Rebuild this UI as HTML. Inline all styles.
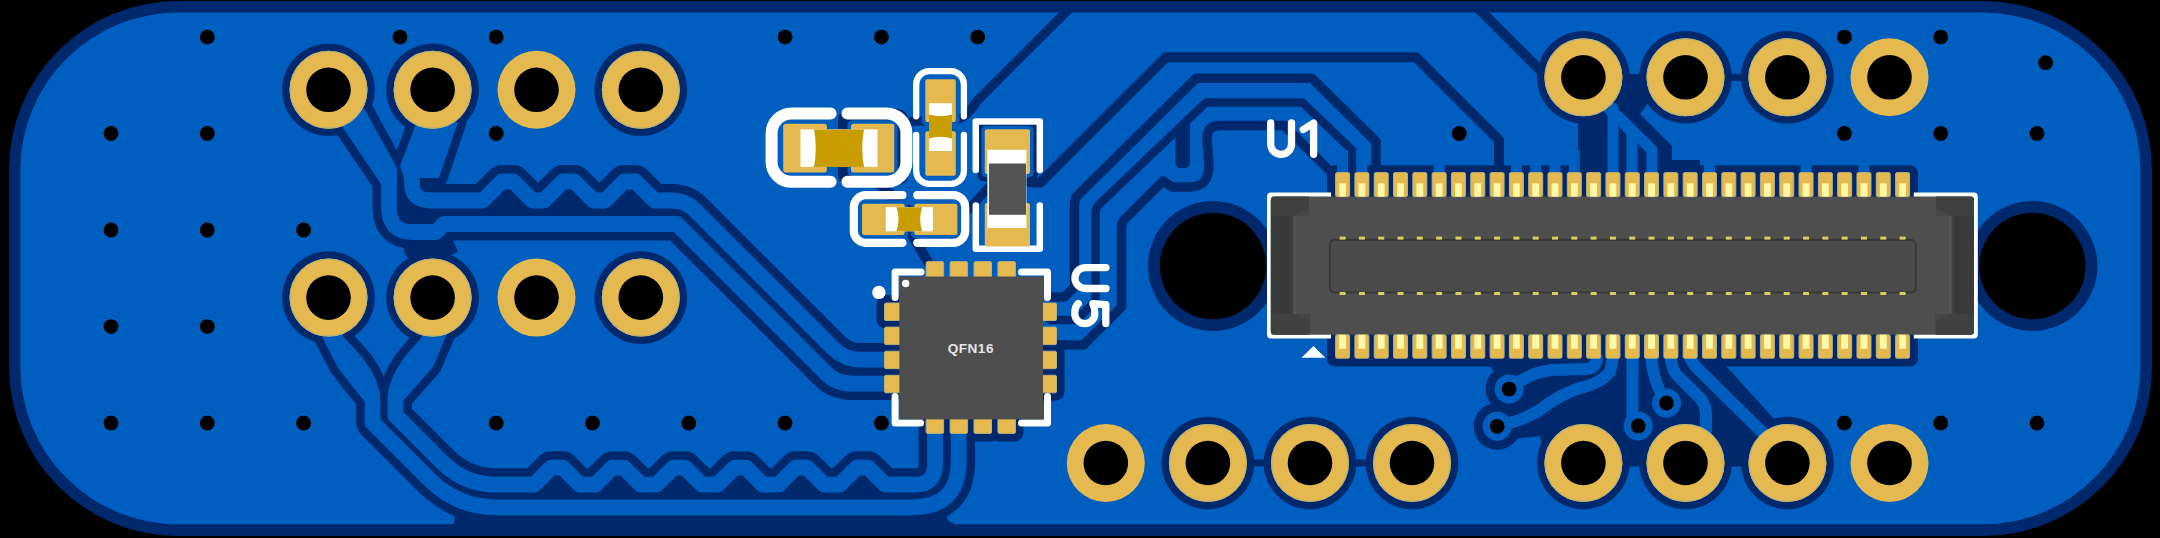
<!DOCTYPE html>
<html><head><meta charset="utf-8"><style>
html,body{margin:0;padding:0;background:#000;width:2160px;height:538px;overflow:hidden;}
svg{display:block;}
</style></head><body><svg width="2160" height="538" viewBox="0 0 2160 538"><rect x="9" y="1" width="2143" height="535" rx="169" ry="169" fill="#00286c"/>
<rect x="20.3" y="12.6" width="2120.2" height="511.6" rx="157.5" ry="157.5" fill="#005ebf"/>
<g fill="none" stroke="#00286c" stroke-linecap="round" stroke-linejoin="round"><circle cx="328.5" cy="89.8" r="46.3" fill="#00286c" stroke="none"/><circle cx="328.5" cy="297.6" r="46.3" fill="#00286c" stroke="none"/><circle cx="432.6" cy="89.8" r="46.3" fill="#00286c" stroke="none"/><circle cx="432.6" cy="297.6" r="46.3" fill="#00286c" stroke="none"/><circle cx="640.8" cy="89.8" r="46.3" fill="#00286c" stroke="none"/><circle cx="640.8" cy="297.6" r="46.3" fill="#00286c" stroke="none"/><circle cx="1583.4" cy="77.3" r="46.3" fill="#00286c" stroke="none"/><circle cx="1583.4" cy="463.0" r="46.3" fill="#00286c" stroke="none"/><circle cx="1685.5" cy="77.3" r="46.3" fill="#00286c" stroke="none"/><circle cx="1685.5" cy="463.0" r="46.3" fill="#00286c" stroke="none"/><circle cx="1787.4" cy="77.3" r="46.3" fill="#00286c" stroke="none"/><circle cx="1787.4" cy="463.0" r="46.3" fill="#00286c" stroke="none"/><circle cx="1207.9" cy="463.0" r="46.3" fill="#00286c" stroke="none"/><circle cx="1310.0" cy="463.0" r="46.3" fill="#00286c" stroke="none"/><circle cx="1412.0" cy="463.0" r="46.3" fill="#00286c" stroke="none"/><circle cx="1213" cy="266" r="65" fill="#00286c" stroke="none"/><circle cx="2032.4" cy="266" r="65" fill="#00286c" stroke="none"/><path d="M474 189 H664 V216 H474 Z" fill="#00286c" stroke="none"/><path d="M404 236 L452 238 L458 252 L440 260 L412 264 L404 252 Z" fill="#00286c" stroke="none"/><path d="M398 200 L412 212 L430 214 L430 222 L400 222 Z" fill="#00286c" stroke="none"/><path d="M432.6 89.8 L412 168 L412 184 Q412 200.5 432 200.5 L482.9 200.5 L501.9 181.5 L513.4 181.5 L532.4 200.5 L544.0 200.5 L563.0 181.5 L574.5 181.5 L593.5 200.5 L605.1 200.5 L624.1 181.5 L635.6 181.5 L654.6 200.5 L672 200.5 Q685.4 200.5 695 210 L834 349 Q845 359.6 860 359.6 L900 359.6" stroke-width="33.0"/><path d="M328.5 89.8 L389 172 L389 207 Q389 232 412 232 L436 232 L444 224 L676.9 224 L826 373 Q836 383.6 852 383.6 L900 383.6" stroke-width="33.0"/><path d="M345 118 L364 108 L397 168 L397 184 L381 184 L343 128 Z" fill="#00286c" stroke-width="17"/><path d="M418 118 L458 122 L439 178 L404 178 L400 166 Z" fill="#00286c" stroke-width="17"/><path d="M520 474 H870 V499 H520 Z" fill="#00286c" stroke="none"/><path d="M432.6 297.6 L429 342 Q395.4 374 395.4 400 L395.4 415.4 L442.1 462.1 Q464.7 484.7 496.7 484.7 L534.2 484.7 L551.2 467.7 L562.8 467.7 L579.8 484.7 L595.4 484.7 L612.4 467.7 L623.9 467.7 L640.9 484.7 L656.5 484.7 L673.5 467.7 L685.0 467.7 L702.0 484.7 L717.5 484.7 L734.5 467.7 L746.0 467.7 L763.0 484.7 L778.6 484.7 L795.6 467.7 L807.1 467.7 L824.1 484.7 L839.8 484.7 L856.8 467.7 L868.2 467.7 L885.2 484.7 L915 484.7 Q935 484.7 935 464 L935 430" stroke-width="33.0"/><path d="M328.5 297.6 L336 342 Q372.6 374 372.6 402 L372.6 422.6 L429.7 479.7 Q457.3 507.3 496.3 507.3 L912 507.3 Q958.6 507.3 958.6 462 L958.6 430" stroke-width="33.0"/><path d="M322 337 L341 334 L364 360 L380 392 L380 402 L365 402 L338 368 Z" fill="#00286c" stroke-width="17"/><path d="M421 338 L447 334 L433 367 L404 400 L388 400 L388 392 L404 360 Z" fill="#00286c" stroke-width="17"/><path d="M446 512.5 L458 505 L470 500 H947 V516 Q947 523 954 523 V526 H448 A6.5 6.5 0 0 0 448 512.5 Z" fill="#00286c" stroke="none"/><rect x="1327" y="165.3" width="591" height="39" rx="8" fill="#00286c" stroke="none"/><rect x="1327" y="326" width="591" height="40.5" rx="8" fill="#00286c" stroke="none"/><path d="M1478 8 L1545 75" stroke-width="10"/><path d="M1578 100 L1578 172 L1700 172 L1700 160 L1672 160 L1672 146 L1628 102 Z" fill="#00286c" stroke="none"/><path d="M1622 74 L1648 74 L1650 100 L1640 114 L1622 112 Z" fill="#00286c" stroke="none"/><rect x="1250.95" y="459.5" width="16" height="7" fill="#00286c" stroke="none"/><rect x="1353.0" y="459.5" width="16" height="7" fill="#00286c" stroke="none"/><rect x="1728.45" y="73.8" width="16" height="7" fill="#00286c" stroke="none"/><rect x="1626.45" y="459.5" width="16" height="7" fill="#00286c" stroke="none"/><rect x="1728.45" y="459.5" width="16" height="7" fill="#00286c" stroke="none"/><circle cx="1509.1" cy="389.1" r="23.5" fill="#00286c" stroke="none"/><circle cx="1497.2" cy="426.3" r="23.5" fill="#00286c" stroke="none"/><path d="M1460 362 L1490 366 L1500 380 L1510 405 L1497 410 L1505 440 L1540 436 L1545 466 L1770 466 L1775 420 L1726 366 Z" fill="#00286c" stroke="none"/><path d="M1068 10 L976 102 Q966 120 950 121 L912 121" stroke-width="9"/><rect x="876.5" y="295" width="36" height="33.5" rx="9" fill="#00286c" stroke="none"/><rect x="1029" y="343.19" width="35.5" height="57.57" rx="9" fill="#00286c" stroke="none"/><rect x="966.01" y="406" width="33.5" height="35.5" rx="9" fill="#00286c" stroke="none"/><rect x="989.9399999999999" y="406" width="33.5" height="35.5" rx="9" fill="#00286c" stroke="none"/><rect x="838" y="109" width="70" height="76" rx="10" fill="#00286c" stroke="none"/><rect x="977" y="121.5" width="61" height="60" rx="8" fill="#00286c" stroke="none"/><path d="M845 178 L878 183 L908 210 L912 235 L928 262" stroke-width="10"/><path d="M968 210 L990 186" stroke-width="9"/><path d="M1030 182 L1040 183 L1166 57.2 L1416 57.2 L1499 140 L1499 170" stroke-width="10"/><path d="M1376 170 L1376 141.5 L1312 78.3 L1196 78.3 L1077.5 195.5 Q1074.5 198.5 1074.5 205 L1074.5 287 L1064.5 297 L1050 297" stroke-width="9.5"/><path d="M1352 170 L1352 150 L1302.5 102.5 L1206 102.5 L1098.5 205 Q1095.5 208 1095.5 214 L1095.5 301 L1076.5 320 L1050 320" stroke-width="8.5"/><path d="M1331 172 L1284 125.4 L1220 125.4 Q1207 125.4 1207 138 L1209 165 Q1209 187 1190 187 L1172 187 L1163 181 L1124.5 219.5 Q1121.5 222.5 1121.5 228 L1121.5 307 L1083.5 345 L1050 345" stroke-width="9.5"/><path d="M1175.5 126 L1190 112 L1190 162 Q1190 168 1184 168 L1181 168 Q1175.5 168 1175.5 162 Z" fill="#00286c" stroke="none"/></g>
<g fill="none" stroke="#005ebf" stroke-linecap="round" stroke-linejoin="round"><path d="M432.6 89.8 L412 168 L412 184 Q412 200.5 432 200.5 L482.9 200.5 L501.9 181.5 L513.4 181.5 L532.4 200.5 L544.0 200.5 L563.0 181.5 L574.5 181.5 L593.5 200.5 L605.1 200.5 L624.1 181.5 L635.6 181.5 L654.6 200.5 L672 200.5 Q685.4 200.5 695 210 L834 349 Q845 359.6 860 359.6 L900 359.6" stroke-width="15.8"/><path d="M328.5 89.8 L389 172 L389 207 Q389 232 412 232 L436 232 L444 224 L676.9 224 L826 373 Q836 383.6 852 383.6 L900 383.6" stroke-width="15.8"/><path d="M345 118 L364 108 L397 168 L397 184 L381 184 L343 128 Z" fill="#005ebf" stroke="none"/><path d="M418 118 L458 122 L439 178 L404 178 L400 166 Z" fill="#005ebf" stroke="none"/><path d="M432.6 297.6 L429 342 Q395.4 374 395.4 400 L395.4 415.4 L442.1 462.1 Q464.7 484.7 496.7 484.7 L534.2 484.7 L551.2 467.7 L562.8 467.7 L579.8 484.7 L595.4 484.7 L612.4 467.7 L623.9 467.7 L640.9 484.7 L656.5 484.7 L673.5 467.7 L685.0 467.7 L702.0 484.7 L717.5 484.7 L734.5 467.7 L746.0 467.7 L763.0 484.7 L778.6 484.7 L795.6 467.7 L807.1 467.7 L824.1 484.7 L839.8 484.7 L856.8 467.7 L868.2 467.7 L885.2 484.7 L915 484.7 Q935 484.7 935 464 L935 430" stroke-width="15.8"/><path d="M328.5 297.6 L336 342 Q372.6 374 372.6 402 L372.6 422.6 L429.7 479.7 Q457.3 507.3 496.3 507.3 L912 507.3 Q958.6 507.3 958.6 462 L958.6 430" stroke-width="15.8"/><path d="M322 337 L341 334 L364 360 L380 392 L380 402 L365 402 L338 368 Z" fill="#005ebf" stroke="none"/><path d="M421 338 L447 334 L433 367 L404 400 L388 400 L388 392 L404 360 Z" fill="#005ebf" stroke="none"/><rect x="1337.1" y="150" width="11" height="30" stroke="none" fill="#005ebf"/><rect x="1356.4" y="150" width="11" height="30" stroke="none" fill="#005ebf"/><rect x="1433.6" y="150" width="11" height="30" stroke="none" fill="#005ebf"/><rect x="1510.9" y="150" width="11" height="30" stroke="none" fill="#005ebf"/><rect x="1530.2" y="150" width="11" height="30" stroke="none" fill="#005ebf"/><rect x="1549.5" y="150" width="11" height="30" stroke="none" fill="#005ebf"/><rect x="1568.8" y="150" width="11" height="30" stroke="none" fill="#005ebf"/><rect x="1704.0" y="150" width="11" height="30" stroke="none" fill="#005ebf"/><rect x="1800.5" y="150" width="11" height="30" stroke="none" fill="#005ebf"/><rect x="1858.5" y="150" width="11" height="30" stroke="none" fill="#005ebf"/><path d="M1613 172 V108" stroke-width="11"/><path d="M1632 172 V132 L1608 108" stroke-width="11"/><path d="M1652 172 V150 L1618 116" stroke-width="11"/><path d="M1597 358 Q1596 369 1585 369 L1552 370 Q1530 372 1509 389" stroke-width="12"/><path d="M1612.9 358 L1610 372 Q1600 384 1580 388 Q1558 395 1540 410 Q1520 422 1497 426" stroke-width="12"/><path d="M1632.5 358 V420" stroke-width="12"/><path d="M1651.6 358 Q1652 380 1666.5 403" stroke-width="12"/><path d="M1670.7 358 Q1672 372 1680 378 L1700 398 Q1706 405 1706 415 V432" stroke-width="12"/><path d="M1690 358 L1695 366 L1768 438" stroke-width="12"/><rect x="847.5" y="120.3" width="50.2" height="55.7" rx="5" fill="#005ebf" stroke="none"/><rect x="981.3" y="125.80000000000001" width="52.2" height="51.7" rx="5" fill="#005ebf" stroke="none"/><rect x="921.8" y="75.7" width="37.5" height="49.8" rx="5" fill="#005ebf" stroke="none"/><rect x="921.8" y="127.69999999999999" width="37.5" height="51.6" rx="5" fill="#005ebf" stroke="none"/><rect x="858.5" y="200.3" width="49.6" height="38.2" rx="5" fill="#005ebf" stroke="none"/><rect x="910.8" y="200.3" width="50.1" height="38.2" rx="5" fill="#005ebf" stroke="none"/><rect x="981.3" y="199.5" width="52.2" height="50.5" rx="5" fill="#005ebf" stroke="none"/><rect x="779.7" y="120.3" width="50.7" height="55.7" rx="5" fill="#005ebf" stroke="none"/><circle cx="1509.1" cy="389.1" r="14.5" fill="#005ebf" stroke="none"/><circle cx="1497.2" cy="426.3" r="14.5" fill="#005ebf" stroke="none"/><circle cx="1638.2" cy="425.9" r="14.5" fill="#005ebf" stroke="none"/><circle cx="1666.5" cy="403.0" r="14.5" fill="#005ebf" stroke="none"/></g>
<g fill="#000"><circle cx="207.3" cy="37.1" r="7.4"/><circle cx="399.9" cy="37.1" r="7.4"/><circle cx="496.2" cy="37.1" r="7.4"/><circle cx="785.1" cy="37.1" r="7.4"/><circle cx="881.4" cy="37.1" r="7.4"/><circle cx="977.7" cy="37.1" r="7.4"/><circle cx="1844.4" cy="37.1" r="7.4"/><circle cx="1940.7" cy="37.1" r="7.4"/><circle cx="111.0" cy="133.5" r="7.4"/><circle cx="207.3" cy="133.5" r="7.4"/><circle cx="496.2" cy="133.5" r="7.4"/><circle cx="1459.2" cy="133.5" r="7.4"/><circle cx="1844.4" cy="133.5" r="7.4"/><circle cx="1940.7" cy="133.5" r="7.4"/><circle cx="2037.0" cy="133.5" r="7.4"/><circle cx="111.0" cy="230.0" r="7.4"/><circle cx="207.3" cy="230.0" r="7.4"/><circle cx="303.6" cy="230.0" r="7.4"/><circle cx="111.0" cy="326.6" r="7.4"/><circle cx="207.3" cy="326.6" r="7.4"/><circle cx="111.0" cy="423.0" r="7.4"/><circle cx="207.3" cy="423.0" r="7.4"/><circle cx="303.6" cy="423.0" r="7.4"/><circle cx="496.2" cy="423.0" r="7.4"/><circle cx="592.5" cy="423.0" r="7.4"/><circle cx="688.8" cy="423.0" r="7.4"/><circle cx="785.1" cy="423.0" r="7.4"/><circle cx="881.4" cy="423.0" r="7.4"/><circle cx="1844.4" cy="423.0" r="7.4"/><circle cx="1940.7" cy="423.0" r="7.4"/><circle cx="2037.0" cy="423.0" r="7.4"/><circle cx="2045.6" cy="62.7" r="7.4"/><circle cx="1509.1" cy="389.1" r="7.4"/><circle cx="1497.2" cy="426.3" r="7.4"/><circle cx="1638.2" cy="425.9" r="7.4"/><circle cx="1666.5" cy="403.0" r="7.4"/></g>
<circle cx="328.5" cy="89.8" r="39" fill="#e4b950"/><circle cx="328.5" cy="89.8" r="38.4" fill="none" stroke="#b9b07a" stroke-width="1.2"/><circle cx="328.5" cy="89.8" r="22.3" fill="#000"/><circle cx="328.5" cy="297.6" r="39" fill="#e4b950"/><circle cx="328.5" cy="297.6" r="38.4" fill="none" stroke="#b9b07a" stroke-width="1.2"/><circle cx="328.5" cy="297.6" r="22.3" fill="#000"/><circle cx="432.6" cy="89.8" r="39" fill="#e4b950"/><circle cx="432.6" cy="89.8" r="38.4" fill="none" stroke="#b9b07a" stroke-width="1.2"/><circle cx="432.6" cy="89.8" r="22.3" fill="#000"/><circle cx="432.6" cy="297.6" r="39" fill="#e4b950"/><circle cx="432.6" cy="297.6" r="38.4" fill="none" stroke="#b9b07a" stroke-width="1.2"/><circle cx="432.6" cy="297.6" r="22.3" fill="#000"/><circle cx="536.5" cy="89.8" r="39" fill="#e4b950"/><circle cx="536.5" cy="89.8" r="22.3" fill="#000"/><circle cx="536.5" cy="297.6" r="39" fill="#e4b950"/><circle cx="536.5" cy="297.6" r="22.3" fill="#000"/><circle cx="640.8" cy="89.8" r="39" fill="#e4b950"/><circle cx="640.8" cy="89.8" r="38.4" fill="none" stroke="#b9b07a" stroke-width="1.2"/><circle cx="640.8" cy="89.8" r="22.3" fill="#000"/><circle cx="640.8" cy="297.6" r="39" fill="#e4b950"/><circle cx="640.8" cy="297.6" r="38.4" fill="none" stroke="#b9b07a" stroke-width="1.2"/><circle cx="640.8" cy="297.6" r="22.3" fill="#000"/><circle cx="1583.4" cy="77.3" r="39" fill="#e4b950"/><circle cx="1583.4" cy="77.3" r="38.4" fill="none" stroke="#b9b07a" stroke-width="1.2"/><circle cx="1583.4" cy="77.3" r="22.3" fill="#000"/><circle cx="1583.4" cy="463.0" r="39" fill="#e4b950"/><circle cx="1583.4" cy="463.0" r="38.4" fill="none" stroke="#b9b07a" stroke-width="1.2"/><circle cx="1583.4" cy="463.0" r="22.3" fill="#000"/><circle cx="1685.5" cy="77.3" r="39" fill="#e4b950"/><circle cx="1685.5" cy="77.3" r="38.4" fill="none" stroke="#b9b07a" stroke-width="1.2"/><circle cx="1685.5" cy="77.3" r="22.3" fill="#000"/><circle cx="1685.5" cy="463.0" r="39" fill="#e4b950"/><circle cx="1685.5" cy="463.0" r="38.4" fill="none" stroke="#b9b07a" stroke-width="1.2"/><circle cx="1685.5" cy="463.0" r="22.3" fill="#000"/><circle cx="1787.4" cy="77.3" r="39" fill="#e4b950"/><circle cx="1787.4" cy="77.3" r="38.4" fill="none" stroke="#b9b07a" stroke-width="1.2"/><circle cx="1787.4" cy="77.3" r="22.3" fill="#000"/><circle cx="1787.4" cy="463.0" r="39" fill="#e4b950"/><circle cx="1787.4" cy="463.0" r="38.4" fill="none" stroke="#b9b07a" stroke-width="1.2"/><circle cx="1787.4" cy="463.0" r="22.3" fill="#000"/><circle cx="1889.5" cy="77.3" r="39" fill="#e4b950"/><circle cx="1889.5" cy="77.3" r="22.3" fill="#000"/><circle cx="1889.5" cy="463.0" r="39" fill="#e4b950"/><circle cx="1889.5" cy="463.0" r="22.3" fill="#000"/><circle cx="1105.8" cy="463.0" r="39" fill="#e4b950"/><circle cx="1105.8" cy="463.0" r="22.3" fill="#000"/><circle cx="1207.9" cy="463.0" r="39" fill="#e4b950"/><circle cx="1207.9" cy="463.0" r="38.4" fill="none" stroke="#b9b07a" stroke-width="1.2"/><circle cx="1207.9" cy="463.0" r="22.3" fill="#000"/><circle cx="1310.0" cy="463.0" r="39" fill="#e4b950"/><circle cx="1310.0" cy="463.0" r="38.4" fill="none" stroke="#b9b07a" stroke-width="1.2"/><circle cx="1310.0" cy="463.0" r="22.3" fill="#000"/><circle cx="1412.0" cy="463.0" r="39" fill="#e4b950"/><circle cx="1412.0" cy="463.0" r="38.4" fill="none" stroke="#b9b07a" stroke-width="1.2"/><circle cx="1412.0" cy="463.0" r="22.3" fill="#000"/><circle cx="1213" cy="266" r="53.2" fill="#000"/><circle cx="2032.4" cy="266" r="53.2" fill="#000"/>
<path d="M1331 192.5 H1271 Q1267 192.5 1267 196.5 V334.6 Q1267 338.6 1271 338.6 H1331 V320 H1300 V210 H1331 Z" fill="#ffffff"/>
<path d="M1913.8 192.5 H1973.8 Q1977.8 192.5 1977.8 196.5 V334.6 Q1977.8 338.6 1973.8 338.6 H1913.8 V320 H1945 V210 H1913.8 Z" fill="#ffffff"/>
<defs><linearGradient id="gl" x1="0" y1="0" x2="1" y2="0"><stop offset="0" stop-color="#3c3c3c"/><stop offset="0.8" stop-color="#383838"/><stop offset="1" stop-color="#454545"/></linearGradient><linearGradient id="gr" x1="1" y1="0" x2="0" y2="0"><stop offset="0" stop-color="#3c3c3c"/><stop offset="0.8" stop-color="#383838"/><stop offset="1" stop-color="#454545"/></linearGradient><linearGradient id="pl" x1="0" y1="0" x2="1" y2="0"><stop offset="0" stop-color="#e8c050"/><stop offset="0.25" stop-color="#fff8a8"/><stop offset="0.75" stop-color="#fff8a8"/><stop offset="1" stop-color="#e8c050"/></linearGradient></defs>
<rect x="1270.8" y="196.6" width="703.2" height="138.2" rx="3.5" fill="#4e4e4e"/>
<path d="M1274.3 196.6 H1309 V216 H1294 V314 H1309.7 V334.8 H1274.3 A3.5 3.5 0 0 1 1270.8 331.3 V200.1 A3.5 3.5 0 0 1 1274.3 196.6 Z" fill="#404040"/>
<rect x="1271" y="216" width="23" height="98" fill="url(#gl)"/>
<path d="M1970.5 196.6 H1936 V216 H1951 V314 H1935.5 V334.8 H1970.5 A3.5 3.5 0 0 0 1974 331.3 V200.1 A3.5 3.5 0 0 0 1970.5 196.6 Z" fill="#404040"/>
<rect x="1951" y="216" width="23" height="98" fill="url(#gr)"/>
<path d="M1294 216 L1309 216 L1309 208 Z M1294 314 L1309.7 314 L1309.7 322 Z M1951 216 L1936 216 L1936 208 Z M1951 314 L1935.5 314 L1935.5 322 Z" fill="#464646"/>
<rect x="1293.5" y="216" width="2" height="98" fill="#555"/><rect x="1949.5" y="216" width="2" height="98" fill="#555"/>
<rect x="1329.8" y="239.8" width="586" height="52.6" rx="5" fill="#4a4a4a" stroke="#383838" stroke-width="2"/>
<rect x="1335.60" y="172.6" width="14" height="24" rx="1.5" fill="#e4b950" stroke="#b9b07a" stroke-width="1"/><rect x="1339.20" y="183.3" width="6.8" height="13.3" fill="#fff8a8"/><rect x="1335.60" y="334.8" width="14" height="23.4" rx="1.5" fill="#e4b950" stroke="#b9b07a" stroke-width="1"/><rect x="1339.20" y="334.8" width="6.8" height="14" fill="#fff8a8"/><rect x="1354.91" y="172.6" width="14" height="24" rx="1.5" fill="#e4b950" stroke="#b9b07a" stroke-width="1"/><rect x="1358.51" y="183.3" width="6.8" height="13.3" fill="#fff8a8"/><rect x="1354.91" y="334.8" width="14" height="23.4" rx="1.5" fill="#e4b950" stroke="#b9b07a" stroke-width="1"/><rect x="1358.51" y="334.8" width="6.8" height="14" fill="#fff8a8"/><rect x="1374.22" y="172.6" width="14" height="24" rx="1.5" fill="#e4b950" stroke="#b9b07a" stroke-width="1"/><rect x="1377.82" y="183.3" width="6.8" height="13.3" fill="#fff8a8"/><rect x="1374.22" y="334.8" width="14" height="23.4" rx="1.5" fill="#e4b950" stroke="#b9b07a" stroke-width="1"/><rect x="1377.82" y="334.8" width="6.8" height="14" fill="#fff8a8"/><rect x="1393.53" y="172.6" width="14" height="24" rx="1.5" fill="#e4b950" stroke="#b9b07a" stroke-width="1"/><rect x="1397.13" y="183.3" width="6.8" height="13.3" fill="#fff8a8"/><rect x="1393.53" y="334.8" width="14" height="23.4" rx="1.5" fill="#e4b950" stroke="#b9b07a" stroke-width="1"/><rect x="1397.13" y="334.8" width="6.8" height="14" fill="#fff8a8"/><rect x="1412.84" y="172.6" width="14" height="24" rx="1.5" fill="#e4b950" stroke="#b9b07a" stroke-width="1"/><rect x="1416.44" y="183.3" width="6.8" height="13.3" fill="#fff8a8"/><rect x="1412.84" y="334.8" width="14" height="23.4" rx="1.5" fill="#e4b950" stroke="#b9b07a" stroke-width="1"/><rect x="1416.44" y="334.8" width="6.8" height="14" fill="#fff8a8"/><rect x="1432.15" y="172.6" width="14" height="24" rx="1.5" fill="#e4b950" stroke="#b9b07a" stroke-width="1"/><rect x="1435.75" y="183.3" width="6.8" height="13.3" fill="#fff8a8"/><rect x="1432.15" y="334.8" width="14" height="23.4" rx="1.5" fill="#e4b950" stroke="#b9b07a" stroke-width="1"/><rect x="1435.75" y="334.8" width="6.8" height="14" fill="#fff8a8"/><rect x="1451.46" y="172.6" width="14" height="24" rx="1.5" fill="#e4b950" stroke="#b9b07a" stroke-width="1"/><rect x="1455.06" y="183.3" width="6.8" height="13.3" fill="#fff8a8"/><rect x="1451.46" y="334.8" width="14" height="23.4" rx="1.5" fill="#e4b950" stroke="#b9b07a" stroke-width="1"/><rect x="1455.06" y="334.8" width="6.8" height="14" fill="#fff8a8"/><rect x="1470.77" y="172.6" width="14" height="24" rx="1.5" fill="#e4b950" stroke="#b9b07a" stroke-width="1"/><rect x="1474.37" y="183.3" width="6.8" height="13.3" fill="#fff8a8"/><rect x="1470.77" y="334.8" width="14" height="23.4" rx="1.5" fill="#e4b950" stroke="#b9b07a" stroke-width="1"/><rect x="1474.37" y="334.8" width="6.8" height="14" fill="#fff8a8"/><rect x="1490.08" y="172.6" width="14" height="24" rx="1.5" fill="#e4b950" stroke="#b9b07a" stroke-width="1"/><rect x="1493.68" y="183.3" width="6.8" height="13.3" fill="#fff8a8"/><rect x="1490.08" y="334.8" width="14" height="23.4" rx="1.5" fill="#e4b950" stroke="#b9b07a" stroke-width="1"/><rect x="1493.68" y="334.8" width="6.8" height="14" fill="#fff8a8"/><rect x="1509.39" y="172.6" width="14" height="24" rx="1.5" fill="#e4b950" stroke="#b9b07a" stroke-width="1"/><rect x="1512.99" y="183.3" width="6.8" height="13.3" fill="#fff8a8"/><rect x="1509.39" y="334.8" width="14" height="23.4" rx="1.5" fill="#e4b950" stroke="#b9b07a" stroke-width="1"/><rect x="1512.99" y="334.8" width="6.8" height="14" fill="#fff8a8"/><rect x="1528.70" y="172.6" width="14" height="24" rx="1.5" fill="#e4b950" stroke="#b9b07a" stroke-width="1"/><rect x="1532.30" y="183.3" width="6.8" height="13.3" fill="#fff8a8"/><rect x="1528.70" y="334.8" width="14" height="23.4" rx="1.5" fill="#e4b950" stroke="#b9b07a" stroke-width="1"/><rect x="1532.30" y="334.8" width="6.8" height="14" fill="#fff8a8"/><rect x="1548.01" y="172.6" width="14" height="24" rx="1.5" fill="#e4b950" stroke="#b9b07a" stroke-width="1"/><rect x="1551.61" y="183.3" width="6.8" height="13.3" fill="#fff8a8"/><rect x="1548.01" y="334.8" width="14" height="23.4" rx="1.5" fill="#e4b950" stroke="#b9b07a" stroke-width="1"/><rect x="1551.61" y="334.8" width="6.8" height="14" fill="#fff8a8"/><rect x="1567.32" y="172.6" width="14" height="24" rx="1.5" fill="#e4b950" stroke="#b9b07a" stroke-width="1"/><rect x="1570.92" y="183.3" width="6.8" height="13.3" fill="#fff8a8"/><rect x="1567.32" y="334.8" width="14" height="23.4" rx="1.5" fill="#e4b950" stroke="#b9b07a" stroke-width="1"/><rect x="1570.92" y="334.8" width="6.8" height="14" fill="#fff8a8"/><rect x="1586.63" y="172.6" width="14" height="24" rx="1.5" fill="#e4b950" stroke="#b9b07a" stroke-width="1"/><rect x="1590.23" y="183.3" width="6.8" height="13.3" fill="#fff8a8"/><rect x="1586.63" y="334.8" width="14" height="23.4" rx="1.5" fill="#e4b950" stroke="#b9b07a" stroke-width="1"/><rect x="1590.23" y="334.8" width="6.8" height="14" fill="#fff8a8"/><rect x="1605.94" y="172.6" width="14" height="24" rx="1.5" fill="#e4b950" stroke="#b9b07a" stroke-width="1"/><rect x="1609.54" y="183.3" width="6.8" height="13.3" fill="#fff8a8"/><rect x="1605.94" y="334.8" width="14" height="23.4" rx="1.5" fill="#e4b950" stroke="#b9b07a" stroke-width="1"/><rect x="1609.54" y="334.8" width="6.8" height="14" fill="#fff8a8"/><rect x="1625.25" y="172.6" width="14" height="24" rx="1.5" fill="#e4b950" stroke="#b9b07a" stroke-width="1"/><rect x="1628.85" y="183.3" width="6.8" height="13.3" fill="#fff8a8"/><rect x="1625.25" y="334.8" width="14" height="23.4" rx="1.5" fill="#e4b950" stroke="#b9b07a" stroke-width="1"/><rect x="1628.85" y="334.8" width="6.8" height="14" fill="#fff8a8"/><rect x="1644.56" y="172.6" width="14" height="24" rx="1.5" fill="#e4b950" stroke="#b9b07a" stroke-width="1"/><rect x="1648.16" y="183.3" width="6.8" height="13.3" fill="#fff8a8"/><rect x="1644.56" y="334.8" width="14" height="23.4" rx="1.5" fill="#e4b950" stroke="#b9b07a" stroke-width="1"/><rect x="1648.16" y="334.8" width="6.8" height="14" fill="#fff8a8"/><rect x="1663.87" y="172.6" width="14" height="24" rx="1.5" fill="#e4b950" stroke="#b9b07a" stroke-width="1"/><rect x="1667.47" y="183.3" width="6.8" height="13.3" fill="#fff8a8"/><rect x="1663.87" y="334.8" width="14" height="23.4" rx="1.5" fill="#e4b950" stroke="#b9b07a" stroke-width="1"/><rect x="1667.47" y="334.8" width="6.8" height="14" fill="#fff8a8"/><rect x="1683.18" y="172.6" width="14" height="24" rx="1.5" fill="#e4b950" stroke="#b9b07a" stroke-width="1"/><rect x="1686.78" y="183.3" width="6.8" height="13.3" fill="#fff8a8"/><rect x="1683.18" y="334.8" width="14" height="23.4" rx="1.5" fill="#e4b950" stroke="#b9b07a" stroke-width="1"/><rect x="1686.78" y="334.8" width="6.8" height="14" fill="#fff8a8"/><rect x="1702.49" y="172.6" width="14" height="24" rx="1.5" fill="#e4b950" stroke="#b9b07a" stroke-width="1"/><rect x="1706.09" y="183.3" width="6.8" height="13.3" fill="#fff8a8"/><rect x="1702.49" y="334.8" width="14" height="23.4" rx="1.5" fill="#e4b950" stroke="#b9b07a" stroke-width="1"/><rect x="1706.09" y="334.8" width="6.8" height="14" fill="#fff8a8"/><rect x="1721.80" y="172.6" width="14" height="24" rx="1.5" fill="#e4b950" stroke="#b9b07a" stroke-width="1"/><rect x="1725.40" y="183.3" width="6.8" height="13.3" fill="#fff8a8"/><rect x="1721.80" y="334.8" width="14" height="23.4" rx="1.5" fill="#e4b950" stroke="#b9b07a" stroke-width="1"/><rect x="1725.40" y="334.8" width="6.8" height="14" fill="#fff8a8"/><rect x="1741.11" y="172.6" width="14" height="24" rx="1.5" fill="#e4b950" stroke="#b9b07a" stroke-width="1"/><rect x="1744.71" y="183.3" width="6.8" height="13.3" fill="#fff8a8"/><rect x="1741.11" y="334.8" width="14" height="23.4" rx="1.5" fill="#e4b950" stroke="#b9b07a" stroke-width="1"/><rect x="1744.71" y="334.8" width="6.8" height="14" fill="#fff8a8"/><rect x="1760.42" y="172.6" width="14" height="24" rx="1.5" fill="#e4b950" stroke="#b9b07a" stroke-width="1"/><rect x="1764.02" y="183.3" width="6.8" height="13.3" fill="#fff8a8"/><rect x="1760.42" y="334.8" width="14" height="23.4" rx="1.5" fill="#e4b950" stroke="#b9b07a" stroke-width="1"/><rect x="1764.02" y="334.8" width="6.8" height="14" fill="#fff8a8"/><rect x="1779.73" y="172.6" width="14" height="24" rx="1.5" fill="#e4b950" stroke="#b9b07a" stroke-width="1"/><rect x="1783.33" y="183.3" width="6.8" height="13.3" fill="#fff8a8"/><rect x="1779.73" y="334.8" width="14" height="23.4" rx="1.5" fill="#e4b950" stroke="#b9b07a" stroke-width="1"/><rect x="1783.33" y="334.8" width="6.8" height="14" fill="#fff8a8"/><rect x="1799.04" y="172.6" width="14" height="24" rx="1.5" fill="#e4b950" stroke="#b9b07a" stroke-width="1"/><rect x="1802.64" y="183.3" width="6.8" height="13.3" fill="#fff8a8"/><rect x="1799.04" y="334.8" width="14" height="23.4" rx="1.5" fill="#e4b950" stroke="#b9b07a" stroke-width="1"/><rect x="1802.64" y="334.8" width="6.8" height="14" fill="#fff8a8"/><rect x="1818.35" y="172.6" width="14" height="24" rx="1.5" fill="#e4b950" stroke="#b9b07a" stroke-width="1"/><rect x="1821.95" y="183.3" width="6.8" height="13.3" fill="#fff8a8"/><rect x="1818.35" y="334.8" width="14" height="23.4" rx="1.5" fill="#e4b950" stroke="#b9b07a" stroke-width="1"/><rect x="1821.95" y="334.8" width="6.8" height="14" fill="#fff8a8"/><rect x="1837.66" y="172.6" width="14" height="24" rx="1.5" fill="#e4b950" stroke="#b9b07a" stroke-width="1"/><rect x="1841.26" y="183.3" width="6.8" height="13.3" fill="#fff8a8"/><rect x="1837.66" y="334.8" width="14" height="23.4" rx="1.5" fill="#e4b950" stroke="#b9b07a" stroke-width="1"/><rect x="1841.26" y="334.8" width="6.8" height="14" fill="#fff8a8"/><rect x="1856.97" y="172.6" width="14" height="24" rx="1.5" fill="#e4b950" stroke="#b9b07a" stroke-width="1"/><rect x="1860.57" y="183.3" width="6.8" height="13.3" fill="#fff8a8"/><rect x="1856.97" y="334.8" width="14" height="23.4" rx="1.5" fill="#e4b950" stroke="#b9b07a" stroke-width="1"/><rect x="1860.57" y="334.8" width="6.8" height="14" fill="#fff8a8"/><rect x="1876.28" y="172.6" width="14" height="24" rx="1.5" fill="#e4b950" stroke="#b9b07a" stroke-width="1"/><rect x="1879.88" y="183.3" width="6.8" height="13.3" fill="#fff8a8"/><rect x="1876.28" y="334.8" width="14" height="23.4" rx="1.5" fill="#e4b950" stroke="#b9b07a" stroke-width="1"/><rect x="1879.88" y="334.8" width="6.8" height="14" fill="#fff8a8"/><rect x="1895.59" y="172.6" width="14" height="24" rx="1.5" fill="#e4b950" stroke="#b9b07a" stroke-width="1"/><rect x="1899.19" y="183.3" width="6.8" height="13.3" fill="#fff8a8"/><rect x="1895.59" y="334.8" width="14" height="23.4" rx="1.5" fill="#e4b950" stroke="#b9b07a" stroke-width="1"/><rect x="1899.19" y="334.8" width="6.8" height="14" fill="#fff8a8"/>
<rect x="1339.60" y="236.6" width="6" height="3" fill="#d8d060"/><rect x="1339.60" y="292" width="6" height="3" fill="#d8d060"/><rect x="1358.91" y="236.6" width="6" height="3" fill="#d8d060"/><rect x="1358.91" y="292" width="6" height="3" fill="#d8d060"/><rect x="1378.22" y="236.6" width="6" height="3" fill="#d8d060"/><rect x="1378.22" y="292" width="6" height="3" fill="#d8d060"/><rect x="1397.53" y="236.6" width="6" height="3" fill="#d8d060"/><rect x="1397.53" y="292" width="6" height="3" fill="#d8d060"/><rect x="1416.84" y="236.6" width="6" height="3" fill="#d8d060"/><rect x="1416.84" y="292" width="6" height="3" fill="#d8d060"/><rect x="1436.15" y="236.6" width="6" height="3" fill="#d8d060"/><rect x="1436.15" y="292" width="6" height="3" fill="#d8d060"/><rect x="1455.46" y="236.6" width="6" height="3" fill="#d8d060"/><rect x="1455.46" y="292" width="6" height="3" fill="#d8d060"/><rect x="1474.77" y="236.6" width="6" height="3" fill="#d8d060"/><rect x="1474.77" y="292" width="6" height="3" fill="#d8d060"/><rect x="1494.08" y="236.6" width="6" height="3" fill="#d8d060"/><rect x="1494.08" y="292" width="6" height="3" fill="#d8d060"/><rect x="1513.39" y="236.6" width="6" height="3" fill="#d8d060"/><rect x="1513.39" y="292" width="6" height="3" fill="#d8d060"/><rect x="1532.70" y="236.6" width="6" height="3" fill="#d8d060"/><rect x="1532.70" y="292" width="6" height="3" fill="#d8d060"/><rect x="1552.01" y="236.6" width="6" height="3" fill="#d8d060"/><rect x="1552.01" y="292" width="6" height="3" fill="#d8d060"/><rect x="1571.32" y="236.6" width="6" height="3" fill="#d8d060"/><rect x="1571.32" y="292" width="6" height="3" fill="#d8d060"/><rect x="1590.63" y="236.6" width="6" height="3" fill="#d8d060"/><rect x="1590.63" y="292" width="6" height="3" fill="#d8d060"/><rect x="1609.94" y="236.6" width="6" height="3" fill="#d8d060"/><rect x="1609.94" y="292" width="6" height="3" fill="#d8d060"/><rect x="1629.25" y="236.6" width="6" height="3" fill="#d8d060"/><rect x="1629.25" y="292" width="6" height="3" fill="#d8d060"/><rect x="1648.56" y="236.6" width="6" height="3" fill="#d8d060"/><rect x="1648.56" y="292" width="6" height="3" fill="#d8d060"/><rect x="1667.87" y="236.6" width="6" height="3" fill="#d8d060"/><rect x="1667.87" y="292" width="6" height="3" fill="#d8d060"/><rect x="1687.18" y="236.6" width="6" height="3" fill="#d8d060"/><rect x="1687.18" y="292" width="6" height="3" fill="#d8d060"/><rect x="1706.49" y="236.6" width="6" height="3" fill="#d8d060"/><rect x="1706.49" y="292" width="6" height="3" fill="#d8d060"/><rect x="1725.80" y="236.6" width="6" height="3" fill="#d8d060"/><rect x="1725.80" y="292" width="6" height="3" fill="#d8d060"/><rect x="1745.11" y="236.6" width="6" height="3" fill="#d8d060"/><rect x="1745.11" y="292" width="6" height="3" fill="#d8d060"/><rect x="1764.42" y="236.6" width="6" height="3" fill="#d8d060"/><rect x="1764.42" y="292" width="6" height="3" fill="#d8d060"/><rect x="1783.73" y="236.6" width="6" height="3" fill="#d8d060"/><rect x="1783.73" y="292" width="6" height="3" fill="#d8d060"/><rect x="1803.04" y="236.6" width="6" height="3" fill="#d8d060"/><rect x="1803.04" y="292" width="6" height="3" fill="#d8d060"/><rect x="1822.35" y="236.6" width="6" height="3" fill="#d8d060"/><rect x="1822.35" y="292" width="6" height="3" fill="#d8d060"/><rect x="1841.66" y="236.6" width="6" height="3" fill="#d8d060"/><rect x="1841.66" y="292" width="6" height="3" fill="#d8d060"/><rect x="1860.97" y="236.6" width="6" height="3" fill="#d8d060"/><rect x="1860.97" y="292" width="6" height="3" fill="#d8d060"/><rect x="1880.28" y="236.6" width="6" height="3" fill="#d8d060"/><rect x="1880.28" y="292" width="6" height="3" fill="#d8d060"/><rect x="1899.59" y="236.6" width="6" height="3" fill="#d8d060"/><rect x="1899.59" y="292" width="6" height="3" fill="#d8d060"/>
<polygon points="1313.5,346 1301.4,357.8 1325.3,357.8" fill="#ffffff"/>
<rect x="926.15" y="261.6" width="17.5" height="20" rx="1.5" fill="#e4b950" stroke="#b9b07a" stroke-width="1"/><rect x="926.15" y="414" width="17.5" height="19.4" rx="1.5" fill="#e4b950" stroke="#b9b07a" stroke-width="1"/><rect x="884.5" y="303.05" width="20" height="17.5" rx="1.5" fill="#e4b950" stroke="#b9b07a" stroke-width="1"/><rect x="1037" y="303.05" width="19.5" height="17.5" rx="1.5" fill="#e4b950" stroke="#b9b07a" stroke-width="1"/><rect x="950.08" y="261.6" width="17.5" height="20" rx="1.5" fill="#e4b950" stroke="#b9b07a" stroke-width="1"/><rect x="950.08" y="414" width="17.5" height="19.4" rx="1.5" fill="#e4b950" stroke="#b9b07a" stroke-width="1"/><rect x="884.5" y="327.12" width="20" height="17.5" rx="1.5" fill="#e4b950" stroke="#b9b07a" stroke-width="1"/><rect x="1037" y="327.12" width="19.5" height="17.5" rx="1.5" fill="#e4b950" stroke="#b9b07a" stroke-width="1"/><rect x="974.01" y="261.6" width="17.5" height="20" rx="1.5" fill="#e4b950" stroke="#b9b07a" stroke-width="1"/><rect x="974.01" y="414" width="17.5" height="19.4" rx="1.5" fill="#e4b950" stroke="#b9b07a" stroke-width="1"/><rect x="884.5" y="351.19" width="20" height="17.5" rx="1.5" fill="#e4b950" stroke="#b9b07a" stroke-width="1"/><rect x="1037" y="351.19" width="19.5" height="17.5" rx="1.5" fill="#e4b950" stroke="#b9b07a" stroke-width="1"/><rect x="997.94" y="261.6" width="17.5" height="20" rx="1.5" fill="#e4b950" stroke="#b9b07a" stroke-width="1"/><rect x="997.94" y="414" width="17.5" height="19.4" rx="1.5" fill="#e4b950" stroke="#b9b07a" stroke-width="1"/><rect x="884.5" y="375.26" width="20" height="17.5" rx="1.5" fill="#e4b950" stroke="#b9b07a" stroke-width="1"/><rect x="1037" y="375.26" width="19.5" height="17.5" rx="1.5" fill="#e4b950" stroke="#b9b07a" stroke-width="1"/>
<g fill="none" stroke="#ffffff" stroke-width="7" stroke-linecap="round" stroke-linejoin="round"><path d="M921 271.9 H895.1 V297.6"/><path d="M1021.5 271.9 H1047.5 V297.6"/><path d="M895.1 396.5 V423 H920.6"/><path d="M1047.5 396.5 V423 H1021.5"/></g>
<circle cx="878.9" cy="292.4" r="6.7" fill="#ffffff"/>
<rect x="899.4" y="276.5" width="143.6" height="142.9" fill="#4e4e4e"/>
<circle cx="905.7" cy="283.5" r="3.7" fill="#ffffff"/>
<text x="970.8" y="353" style="font-family:&quot;Liberation Sans&quot;, sans-serif" font-weight="bold" font-size="13.6" letter-spacing="0.5" fill="#e6e6e6" text-anchor="middle">QFN16</text>
<g fill="none" stroke="#ffffff" stroke-width="12" stroke-linecap="round"><path d="M830.6 113.5 H791.6 A20 20 0 0 0 771.6 133.5 V161.8 A20 20 0 0 0 791.6 181.8 H830.6"/><path d="M847.4 113.5 H886.4 A20 20 0 0 1 906.4 133.5 V161.8 A20 20 0 0 1 886.4 181.8 H847.4"/></g>
<rect x="783.2" y="123.8" width="43.7" height="48.7" rx="2.5" fill="#e4b950"/><rect x="851" y="123.8" width="43.2" height="48.7" rx="2.5" fill="#e4b950"/>
<rect x="800.5" y="129.4" width="77" height="37.5" fill="#ffffff"/>
<path d="M814 129.4 H864 Q860.5 148 864 166.9 H814 Q817.5 148 814 129.4 Z" fill="#c99c00"/>
<g fill="none" stroke="#ffffff" stroke-width="6.3" stroke-linecap="round"><path d="M916.2 116.3 V84.2 A13 13 0 0 1 929.2 71.2 H950.9 A13 13 0 0 1 963.9 84.2 V116.3"/><path d="M916.2 135 V170.9 A13 13 0 0 0 929.2 183.9 H950.9 A13 13 0 0 0 963.9 170.9 V135"/></g>
<rect x="925.3" y="79.2" width="30.5" height="42.8" rx="2" fill="#e4b950"/><rect x="925.3" y="131.2" width="30.5" height="44.6" rx="2" fill="#e4b950"/>
<rect x="929" y="103.3" width="23" height="47.7" fill="#ffffff"/>
<path d="M929 114.5 Q940.5 118 952 114.5 V138.6 Q940.5 135 929 138.6 Z" fill="#c99c00"/>
<g fill="none" stroke="#ffffff" stroke-width="6.5" stroke-linecap="round" stroke-linejoin="round"><path d="M975.8 170 V121.5 H1039.8 V170"/><path d="M975.8 205.5 V248.7 H1039.8 V205.5"/></g>
<rect x="984.8" y="129.3" width="45.2" height="44.7" rx="2" fill="#e4b950"/><rect x="984.8" y="203" width="45.2" height="43.5" rx="2" fill="#e4b950"/>
<rect x="987.4" y="149.8" width="39" height="78.1" fill="#ffffff"/>
<rect x="989" y="163.5" width="37" height="51.3" fill="#545454"/>
<g fill="none" stroke="#ffffff" stroke-width="8.2" stroke-linecap="round"><path d="M902.4 195.2 H866 A12 12 0 0 0 853.8 207.2 V230.8 A12 12 0 0 0 866 242.8 H902.4"/><path d="M917.3 195.2 H953.2 A12 12 0 0 1 965.2 207.2 V230.8 A12 12 0 0 1 953.2 242.8 H917.3"/></g>
<rect x="862" y="203.8" width="42.6" height="31.2" rx="2" fill="#e4b950"/><rect x="914.3" y="203.8" width="43.1" height="31.2" rx="2" fill="#e4b950"/>
<rect x="885.8" y="207.2" width="47.1" height="24.1" fill="#ffffff"/>
<path d="M896.5 207.2 H922.2 Q918 219.25 922.2 231.3 H896.5 Q900.7 219.25 896.5 207.2 Z" fill="#c99c00"/>
<g fill="none" stroke="#ffffff" stroke-width="7.3" stroke-linecap="round" stroke-linejoin="round"><path d="M1270.7 123 V144 A10.4 10.4 0 0 0 1291.5 144 V123"/><path d="M1303.3 129.5 L1313.6 123 V154.3"/><g transform="translate(1106 267.6) rotate(90)"><path d="M0 0 V20.6 A10.45 10.45 0 0 0 20.9 20.6 V0"/></g><g transform="translate(1105.8 303.6) rotate(90)"><path d="M20 0 H1 L0 13 Q4 11 9.5 11 A10 10 0 0 1 20 21 A10 10 0 0 1 9.5 31 Q3 31 0 27.5"/></g></g></svg></body></html>
